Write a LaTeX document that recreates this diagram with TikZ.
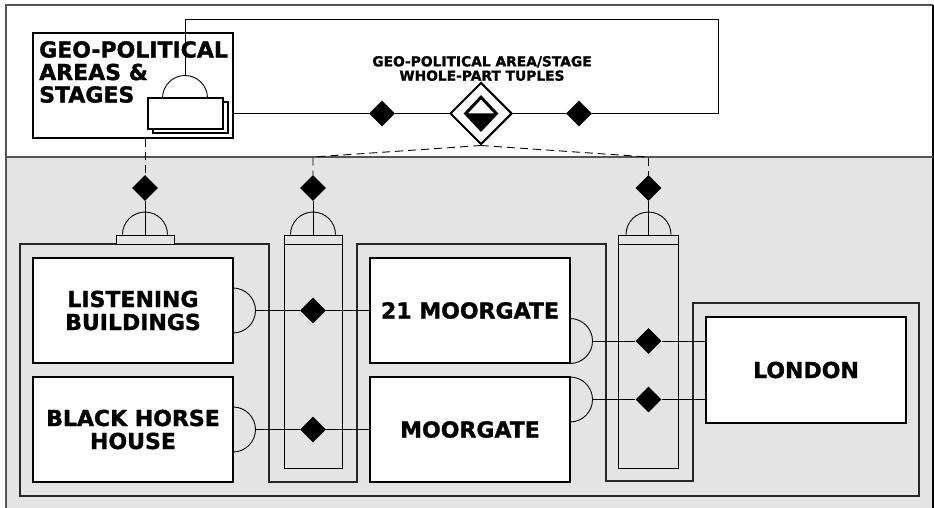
\documentclass[tikz,border=0pt]{standalone}
\usepackage{fontspec}
\setmainfont{DejaVu Sans}[BoldFeatures={FakeBold=1.3}]
\usetikzlibrary{shapes.geometric}
\definecolor{bggrey}{HTML}{E4E4E4}
\definecolor{framegrey}{HTML}{555555}
\tikzset{
  upsemi/.pic={\draw[line width=0.9pt] (-22.5,0) .. controls (-22.5,-12.4) and (-12.4,-22.5) .. (0,-22.5) .. controls (12.4,-22.5) and (22.5,-12.4) .. (22.5,0);},
  rsemi/.pic={\draw[line width=0.9pt] (0,-22.5) .. controls (12.4,-22.5) and (22.5,-12.4) .. (22.5,0) .. controls (22.5,12.4) and (12.4,22.5) .. (0,22.5);}
}
\begin{document}
\begin{tikzpicture}[x=1pt,y=-1pt,
  conn/.style={line width=0.9pt},
  dashconn/.style={line width=0.9pt, dash pattern=on 8pt off 5pt},
  entity/.style={draw, line width=2pt, fill=white, rectangle, inner sep=0pt,
    font=\bfseries\fontsize{22}{23}\selectfont, align=center},
  dmd/.style={diamond, fill=black, minimum width=26pt, minimum height=26pt, inner sep=0pt},
  tabbox/.style={draw, line width=0.9pt, fill=bggrey, rectangle, inner sep=0pt, minimum height=9pt},
  colbox/.style={draw, line width=0.9pt, rectangle, inner sep=0pt, minimum height=224pt},
  stackbox/.style={draw, line width=1.6pt, fill=white, rectangle, inner sep=0pt, minimum width=75pt, minimum height=31pt}
]
\useasboundingbox (0,0) rectangle (934,508);
% background
\fill[white] (0,0) rectangle (934,508);
\fill[bggrey] (6,157) rectangle (933,508);
\draw[framegrey, line width=1.2pt] (6,508) -- (6,5) -- (933,5);
\draw[black, line width=1.4pt] (933,5) -- (933,508);
\draw[framegrey, line width=1.5pt] (6,157) -- (933,157);

% container outline
\draw[line width=1.1pt, draw=black!85] (20,244) -- (269,244) -- (269,482) -- (357,482) -- (357,244)
  -- (606,244) -- (606,481) -- (693,481) -- (693,303) -- (919,303) -- (919,496) -- (20,496) -- cycle;

% columns and tabs
\node[tabbox, minimum width=58pt] (tab1) at (145,239.5) {};
\node[tabbox, minimum width=58pt] (tab2) at (313,239.5) {};
\node[tabbox, minimum width=60pt] (tab3) at (648.5,239.5) {};
\node[colbox, minimum width=58pt] (col2) at (313,356) {};
\node[colbox, minimum width=60pt] (col3) at (648.5,356) {};

% top entity
\node[entity, minimum width=200pt, minimum height=105pt] (geo) at (133,85.5) {};
\node[anchor=north west, align=left, inner sep=0pt, font=\bfseries\fontsize{22}{22.5}\selectfont] (geotext) at (39,41) {GEO-POLITICAL\\AREAS \&\\STAGES};
\node[stackbox] (stackback) at (190.5,117.5) {};
\node[stackbox] (stackfront) at (185.5,113.5) {};
\coordinate (stacktop) at (185,75.5);
\pic at (185,98) {upsemi};

% entities
\node[entity, minimum width=200pt, minimum height=105pt] (listen) at (133,310.5) {LISTENING\\BUILDINGS};
\node[entity, minimum width=200pt, minimum height=105pt] (black) at (133,429.5) {BLACK HORSE\\HOUSE};
\node[entity, minimum width=200pt, minimum height=105pt] (m21) at (470,310.5) {21 MOORGATE};
\node[entity, minimum width=200pt, minimum height=105pt] (mg) at (470,429.5) {MOORGATE};
\node[entity, minimum width=200pt, minimum height=106pt] (lon) at (806,370) {LONDON};

% right semicircles
\pic at (233,310.5) {rsemi};
\pic at (233,429.5) {rsemi};
\pic at (570,341) {rsemi};
\pic at (570,399.5) {rsemi};
\coordinate (lsR) at (255.5,310.5);
\coordinate (bhR) at (255.5,429.5);
\coordinate (m21R) at (592.5,341);
\coordinate (mgR) at (592.5,399.5);

% tuple diamonds
\node[dmd] (dA) at (313,310.5) {};
\node[dmd] (dB) at (313,429.5) {};
\node[dmd] (dC) at (648.5,341) {};
\node[dmd] (dD) at (648.5,399.5) {};
\draw[conn] (lsR) -- (dA) -- (dA -| m21.west);
\draw[conn] (bhR) -- (dB) -- (dB -| mg.west);
\draw[conn] (m21R) -- (dC) -- (dC -| lon.west);
\draw[conn] (mgR) -- (dD) -- (dD -| lon.west);

% top diamonds row
\node[dmd] (dm1) at (145,188) {};
\node[dmd] (dm2) at (313,188) {};
\node[dmd] (dm3) at (648.5,188) {};
\pic at (tab1.north) {upsemi};
\pic at (tab2.north) {upsemi};
\pic at (tab3.north) {upsemi};
\draw[conn] (dm1) -- (dm1 |- tab1.north);
\draw[conn] (dm2) -- (dm2 |- tab2.north);
\draw[conn] (dm3) -- (dm3 |- tab3.north);
\draw[dashconn] (dm1 |- geo.south) -- (dm1);

% whole-part tuple loop
\node[dmd] (d1) at (382,113.5) {};
\node[dmd] (d3) at (579,113.5) {};
\node[diamond, draw, line width=2pt, fill=white, minimum width=62pt, minimum height=62pt, inner sep=0pt] (big) at (481,113.5) {};
\node[diamond, draw, line width=2pt, fill=white, minimum width=30pt, minimum height=32pt, inner sep=0pt] (bigin) at (481,113.5) {};
\fill[black] (bigin.west) -- (bigin.east) -- (bigin.south) -- cycle;
\draw[line width=2pt, line join=miter] (bigin.north) -- (bigin.east) -- (bigin.south) -- (bigin.west) -- cycle;
\coordinate (c1) at (718,113.5);
\coordinate (c2) at (718,19);
\coordinate (c3) at (185,19);
\draw[conn] (geo.east |- d1) -- (d1) -- (big) -- (d3) -- (c1) -- (c2) -- (c3) -- (stacktop);
\coordinate (c4) at (313,157);
\coordinate (c5) at (648.5,157);
\draw[dashconn] (big.south) -- (c4) -- (dm2);
\draw[dashconn] (big.south) -- (c5) -- (dm3);

\node[align=center, inner sep=0pt, font=\bfseries\fontsize{13.8}{14.3}\selectfont] (tuplelabel) at (482,68.5) {GEO-POLITICAL AREA/STAGE\\WHOLE-PART TUPLES};
\end{tikzpicture}
\end{document}
